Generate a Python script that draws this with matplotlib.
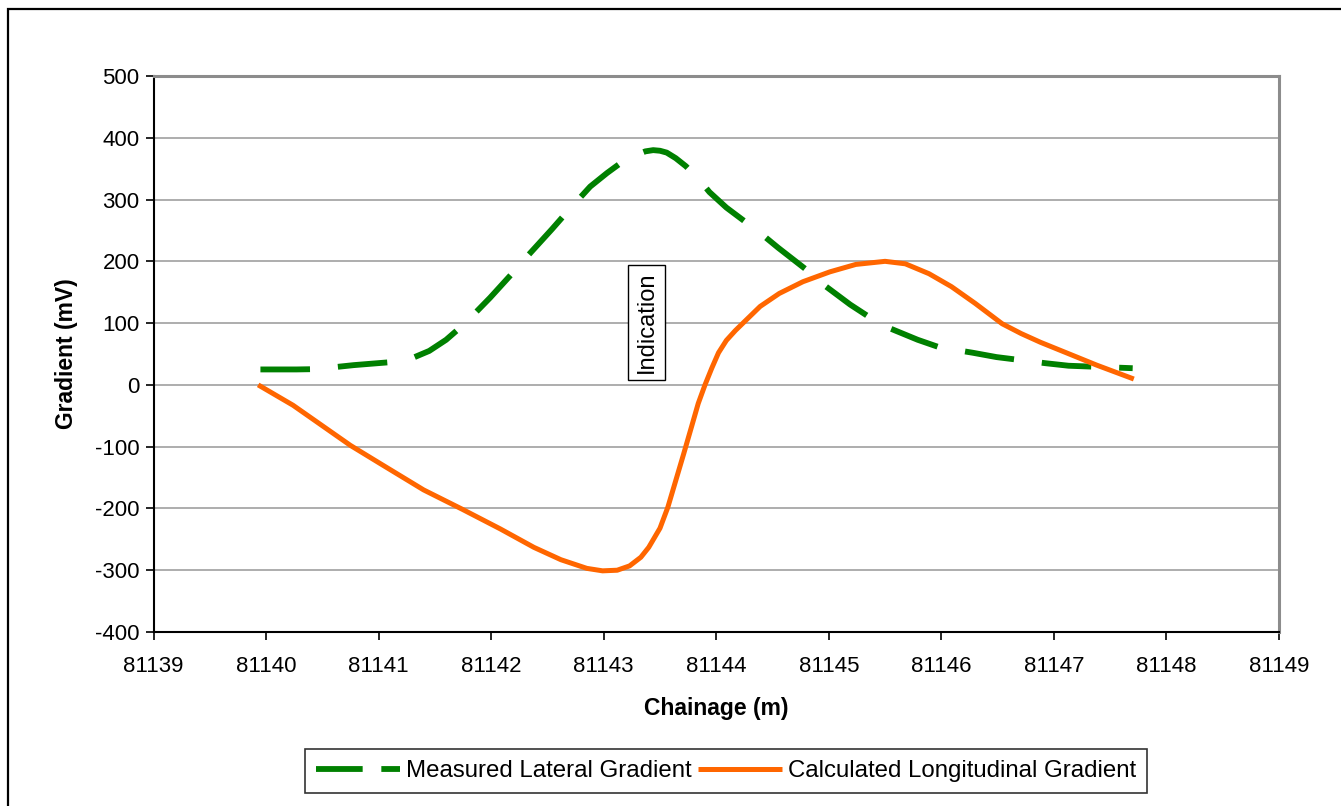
import matplotlib
matplotlib.use("Agg")
import matplotlib.pyplot as plt
from matplotlib.patches import Rectangle
from matplotlib.lines import Line2D

plt.rcParams['font.family'] = ['Liberation Sans', 'DejaVu Sans']

# Measured Lateral Gradient (green, dashed)
lat_x = [81139.95, 81140.27, 81140.44, 81140.78, 81141.12, 81141.32, 81141.45,
         81141.60, 81141.72, 81141.84, 81141.99, 81142.20, 81142.33, 81142.54,
         81142.67, 81142.88, 81143.03, 81143.15, 81143.23, 81143.30, 81143.37,
         81143.44, 81143.50, 81143.56, 81143.64, 81143.73, 81143.84, 81143.94,
         81144.09, 81144.39, 81144.55, 81144.79, 81144.94, 81145.19, 81145.35,
         81145.55, 81145.79, 81145.98, 81146.28, 81146.49, 81146.93, 81147.13,
         81147.42, 81147.70]
lat_y = [25, 25, 25.5, 32, 37, 45, 55,
         73, 92, 113, 141, 183, 210, 252,
         279, 321, 343, 359, 367, 373, 378,
         380, 379, 376, 367, 354, 334, 312,
         287, 246, 222, 188, 164, 130, 111,
         91, 73, 61, 52, 45, 35, 31,
         29, 27]

# Calculated Longitudinal Gradient (orange, solid)
lon_x = [81139.93, 81140.24, 81140.75, 81141.02, 81141.40, 81141.74, 81142.08,
         81142.38, 81142.62, 81142.85, 81142.99, 81143.12, 81143.23, 81143.33,
         81143.40, 81143.50, 81143.57, 81143.64, 81143.71, 81143.78, 81143.84,
         81143.90, 81143.96, 81144.02, 81144.09, 81144.17, 81144.26, 81144.39,
         81144.56, 81144.77, 81145.01, 81145.24, 81145.50, 81145.68, 81145.89,
         81146.09, 81146.30, 81146.54, 81146.71, 81146.88, 81147.11, 81147.38,
         81147.71]
lon_y = [0, -33, -98, -128, -170, -201, -233,
         -263, -283, -297, -301, -300, -293, -279,
         -263, -232, -198, -155, -112, -68, -30,
         0, 27, 52, 72, 88, 104, 127,
         148, 167, 183, 195, 200, 196, 180,
         159, 132, 99, 83, 69, 52, 32,
         9.5]

x_ticks = list(range(81139, 81150))
y_ticks = list(range(-400, 501, 100))

fig = plt.figure(figsize=(13.41, 8.06), dpi=100)
W, H = 1341, 806
ax = fig.add_axes([153.5 / W, 1 - 632 / H, (1279 - 153.5) / W, (632 - 76) / H])

ax.set_xlim(81139, 81149)
ax.set_ylim(-400, 500)
ax.set_xticks(x_ticks)
ax.set_yticks(y_ticks)
ax.set_xticklabels([str(v) for v in x_ticks], fontsize=16)
ax.set_yticklabels([str(v) for v in y_ticks], fontsize=16)
ax.tick_params(axis='both', direction='out', length=6, width=1.2, color='black')
ax.tick_params(axis='x', pad=11)
ax.tick_params(axis='y', pad=4)

ax.grid(axis='y', color='#a0a0a0', linewidth=1.2)
ax.set_axisbelow(True)

for s in ['left', 'bottom']:
    ax.spines[s].set_color('black')
    ax.spines[s].set_linewidth(1.5)
for s in ['top', 'right']:
    ax.spines[s].set_color('#8c8c8c')
    ax.spines[s].set_linewidth(2.2)

ax.plot(lat_x, lat_y, color='#008000', linewidth=4.2,
        dashes=(8.5, 4.8), dash_capstyle='butt', dash_joinstyle='round')
ax.plot(lon_x, lon_y, color='#ff6600', linewidth=3.6,
        solid_capstyle='butt', solid_joinstyle='round')

ax.set_xlabel('Chainage (m)', fontsize=16.5, fontweight='bold', labelpad=15)
ax.set_ylabel('Gradient (mV)', fontsize=16.5, fontweight='bold', labelpad=12)

ax.text(81143.38, 101, 'Indication', rotation=90, fontsize=17,
        ha='center', va='center',
        bbox=dict(boxstyle='square,pad=0.3', facecolor='white',
                  edgecolor='black', linewidth=1))

# legend proxies (legend sample shows two dashes)
h1 = Line2D([], [], color='#008000', linewidth=4.2, dashes=(8.0, 3.2),
            dash_capstyle='butt', label='Measured Lateral Gradient')
h2 = Line2D([], [], color='#ff6600', linewidth=3.6, solid_capstyle='butt',
            label='Calculated Longitudinal Gradient')
leg = fig.legend(handles=[h1, h2], loc='center', ncol=2,
                 bbox_to_anchor=(726 / W, 1 - 771 / H), fontsize=17.3,
                 frameon=True, fancybox=False, handlelength=3.5,
                 handletextpad=0.25, columnspacing=0.25, borderpad=0.45,
                 borderaxespad=0)
leg.get_frame().set_edgecolor('black')
leg.get_frame().set_linewidth(1.2)

# chart area border (top and left visible)
fig.add_artist(Rectangle((8 / W, -0.05), 1.2, 1 - 9 / H + 0.05,
                         transform=fig.transFigure, fill=False,
                         edgecolor='black', linewidth=1.6))

fig.savefig('out.png', dpi=100)
